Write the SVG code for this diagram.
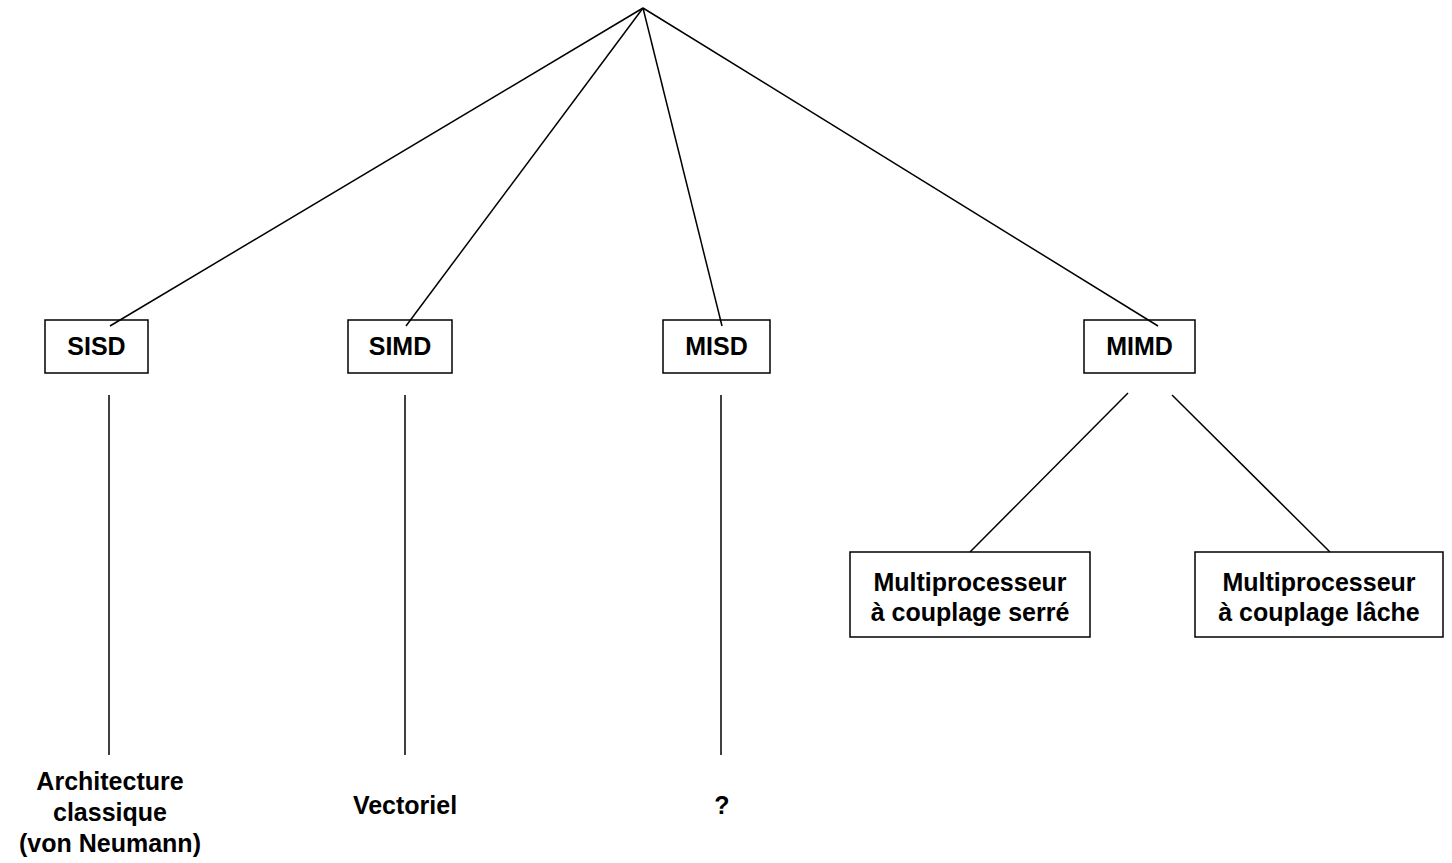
<svg xmlns="http://www.w3.org/2000/svg" width="1452" height="863" viewBox="0 0 1452 863">
<style>
.box{fill:#fff;stroke:#000;stroke-width:1.5}
.ln{stroke:#000;stroke-width:1.5;fill:none}
text{font-family:"Liberation Sans",Arial,sans-serif;font-weight:bold;font-size:25px;fill:#000;text-anchor:middle}
</style>
<rect width="1452" height="863" fill="#fff"/>
<g id="sisd"><rect class="box" x="45" y="320" width="103" height="53"/><text x="96.5" y="355">SISD</text></g>
<g id="simd"><rect class="box" x="348" y="320" width="104" height="53"/><text x="400" y="355">SIMD</text></g>
<g id="misd"><rect class="box" x="663" y="320" width="107" height="53"/><text x="716.5" y="355">MISD</text></g>
<g id="mimd"><rect class="box" x="1084" y="320" width="111" height="53"/><text x="1139.5" y="355">MIMD</text></g>
<g id="serre"><rect class="box" x="850" y="552" width="240" height="85"/><text x="970" y="591">Multiprocesseur</text><text x="970" y="621">à couplage serré</text></g>
<g id="lache"><rect class="box" x="1195" y="552" width="248" height="85"/><text x="1319" y="591">Multiprocesseur</text><text x="1319" y="621">à couplage lâche</text></g>
<g id="classique"><text x="110" y="790">Architecture</text><text x="110" y="821">classique</text><text x="110" y="852">(von Neumann)</text></g>
<g id="vectoriel"><text x="405" y="814">Vectoriel</text></g>
<g id="question"><text x="722" y="814">?</text></g>
<g id="connectors">
<line class="ln" x1="643" y1="8" x2="110" y2="326"/>
<line class="ln" x1="643" y1="8" x2="406" y2="326"/>
<line class="ln" x1="643" y1="8" x2="722" y2="326"/>
<line class="ln" x1="643" y1="8" x2="1158" y2="326"/>
<line class="ln" x1="109" y1="395" x2="109" y2="755"/>
<line class="ln" x1="405" y1="395" x2="405" y2="755"/>
<line class="ln" x1="721" y1="395" x2="721" y2="755"/>
<line class="ln" x1="1128" y1="393" x2="970" y2="552"/>
<line class="ln" x1="1172" y1="395" x2="1330" y2="552"/>
</g>
</svg>
